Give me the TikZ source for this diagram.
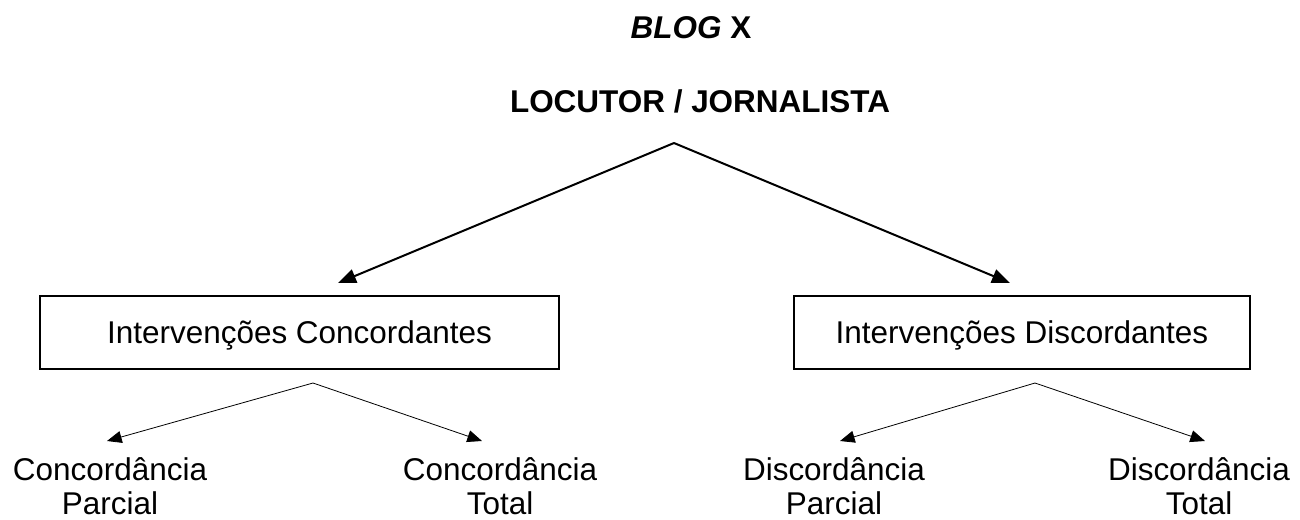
\documentclass[tikz,border=0pt]{standalone}
\usepackage{fontspec}
\setmainfont{Liberation Sans}
\usetikzlibrary{arrows.meta}
\begin{document}
\begin{tikzpicture}[x=0.75pt,y=-0.75pt,
  lbl/.style={font=\fontsize{23.6pt}{26pt}\selectfont, inner sep=0pt},
  ttl/.style={font=\fontsize{23.6pt}{27pt}\selectfont\bfseries, inner sep=0pt, anchor=base},
  boxnode/.style={draw, line width=1.1pt, font=\fontsize{23.6pt}{27pt}\selectfont, minimum height=54.75pt, inner sep=0pt, text height=17pt, text depth=0pt},
  bigarr/.style={line width=1.5pt, -{Triangle[length=13.5pt,width=10.5pt]}},
  smallarr/.style={line width=0.6pt, -{Triangle[length=11pt,width=9pt]}},
  two/.style={lbl, align=center, anchor=north}
]
\useasboundingbox (0,0) rectangle (1300,519);
\node[ttl] (blog) at (691,38) {\textit{BLOG} X};
\node[ttl] (loc) at (700,112) {LOCUTOR / JORNALISTA};
\coordinate (apex) at (674,143);
\node[boxnode, minimum width=389.25pt] (conc) at (299.5,332.5) {Intervenções Concordantes};
\node[boxnode, minimum width=342pt] (disc) at (1022,332.5) {Intervenções Discordantes};
\coordinate (tipL) at (338,283);
\coordinate (tipR) at (1010,283);
\draw[bigarr] (apex) -- (tipL);
\draw[bigarr] (apex) -- (tipR);
\node[two] (cp) at (110,457) {Concordância\\Parcial};
\node[two] (ct) at (500,457) {Concordância\\Total};
\node[two] (dp) at (834,457) {Discordância\\Parcial};
\node[two] (dt) at (1199,457) {Discordância\\Total};
\coordinate (sapL) at (313,383);
\coordinate (sapR) at (1035,383);
\coordinate (tcp) at (107,441);
\coordinate (tct) at (482,441);
\coordinate (tdp) at (840,441);
\coordinate (tdt) at (1205,441);
\draw[smallarr] (sapL) -- (tcp);
\draw[smallarr] (sapL) -- (tct);
\draw[smallarr] (sapR) -- (tdp);
\draw[smallarr] (sapR) -- (tdt);
\end{tikzpicture}
\end{document}
